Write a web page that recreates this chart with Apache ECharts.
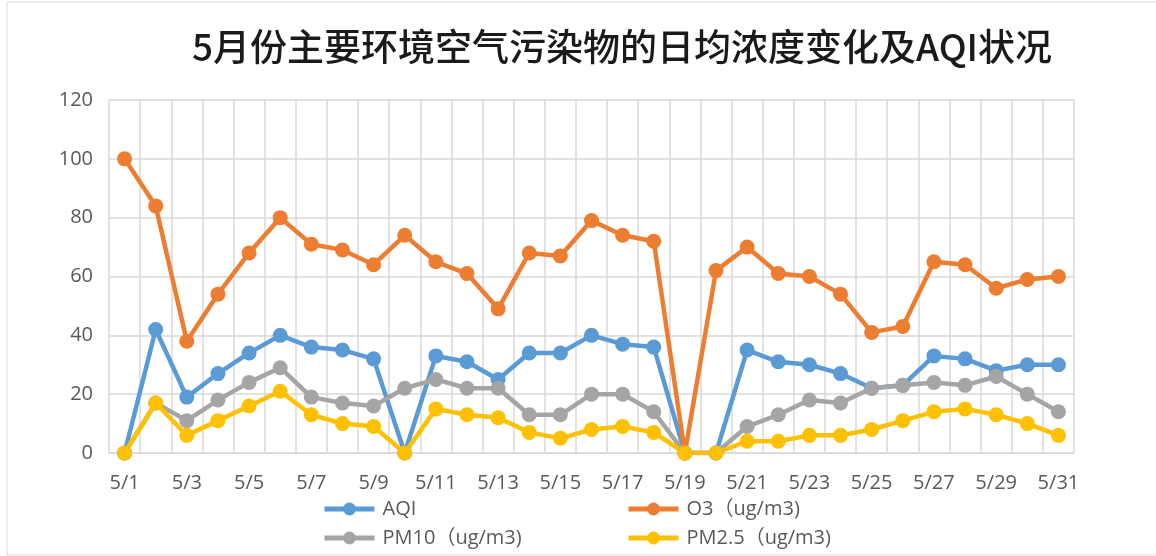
<!DOCTYPE html>
<html>
<head>
<meta charset="utf-8">
<title>5月份主要环境空气污染物的日均浓度变化及AQI状况</title>
<script src="https://cdn.jsdelivr.net/npm/echarts@6/dist/echarts.min.js"></script>
<style>
	html,body{margin:0;padding:0;background:#fff;}
	#main{width:1156px;height:556px;}
</style>
</head>
<body>
<div id="main"></div>
<script>
// 日期
var days = ['5/1','5/2','5/3','5/4','5/5','5/6','5/7','5/8','5/9','5/10',
	'5/11','5/12','5/13','5/14','5/15','5/16','5/17','5/18','5/19','5/20',
	'5/21','5/22','5/23','5/24','5/25','5/26','5/27','5/28','5/29','5/30','5/31'];
// 各项数据
var aqi  = [0,42,19,27,34,40,36,35,32,0,33,31,25,34,34,40,37,36,0,0,35,31,30,27,22,23,33,32,28,30,30];
var o3   = [100,84,38,54,68,80,71,69,64,74,65,61,49,68,67,79,74,72,0,62,70,61,60,54,41,43,65,64,56,59,60];
var pm10 = [0,17,11,18,24,29,19,17,16,22,25,22,22,13,13,20,20,14,0,0,9,13,18,17,22,23,24,23,26,20,14];
var pm25 = [0,17,6,11,16,21,13,10,9,0,15,13,12,7,5,8,9,7,0,0,4,4,6,6,8,11,14,15,13,10,6];
var names = ['AQI','O3（ug/m3)','PM10（ug/m3)','PM2.5（ug/m3)'];
var colors = ['#5B9BD5','#ED7D31','#A5A5A5','#FFC000'];

var font = "'Open Sans','Noto Sans CJK SC',sans-serif";

function lineSeries(name,data,color){
	return {
		name: name,
		type: 'line',
		data: data,
		symbol: 'circle',
		symbolSize: 15,
		itemStyle: {color: color},
		lineStyle: {color: color, width: 4.5},
		emphasis: {disabled: true}
	};
}

// 图例, 两列
function legendCol(left,list){
	var items = [];
	for(var i=0;i<list.length;i++){
		items.push({name: list[i], lineStyle: {width: 5}});
	}
	return {
		orient: 'vertical',
		left: left,
		top: 494,
		itemWidth: 50,
		itemHeight: 16,
		itemGap: 9,
		data: items,
		lineStyle: {width: 5},
		textStyle: {fontSize: 20, color: '#595959', fontFamily: font, padding: [0,0,0,3]}
	};
}

var chart = echarts.init(document.getElementById('main'));
var option = {
	animation: false,
	color: colors,
	graphic: [
		{
			type: 'rect',
			shape: {x: 7, y: 2, width: 1200, height: 553},
			style: {fill: 'none', stroke: '#D9D9D9', lineWidth: 1}
		},
		{
			type: 'text',
			x: 622,
			y: 47,
			style: {
				text: '5月份主要环境空气污染物的日均浓度变化及AQI状况',
				fill: '#1a1a1a',
				font: "500 37px 'Noto Sans CJK SC',sans-serif",
				textAlign: 'center',
				textVerticalAlign: 'middle'
			}
		}
	],
	legend: [
		legendCol(317,[names[0],names[2]]),
		legendCol(621,[names[1],names[3]])
	],
	grid: {
		left: 109,
		right: 82,
		top: 100,
		bottom: 103
	},
	xAxis: {
		type: 'category',
		data: days,
		boundaryGap: true,
		axisLine: {lineStyle: {color: '#D9D9D9', width: 1.5}},
		axisTick: {show: false},
		splitLine: {show: true, interval: 0, lineStyle: {color: '#D9D9D9', width: 1.5}},
		axisLabel: {interval: 1, margin: 20, fontSize: 20, color: '#595959', fontFamily: font}
	},
	yAxis: {
		type: 'value',
		min: 0,
		max: 120,
		interval: 20,
		axisLine: {show: false},
		axisTick: {show: false},
		splitLine: {lineStyle: {color: '#D9D9D9', width: 1.5}},
		axisLabel: {margin: 16, fontSize: 20, color: '#595959', fontFamily: font}
	},
	series: [
		lineSeries(names[0],aqi,colors[0]),
		lineSeries(names[1],o3,colors[1]),
		lineSeries(names[2],pm10,colors[2]),
		lineSeries(names[3],pm25,colors[3])
	]
};
chart.setOption(option);
</script>
</body>
</html>
